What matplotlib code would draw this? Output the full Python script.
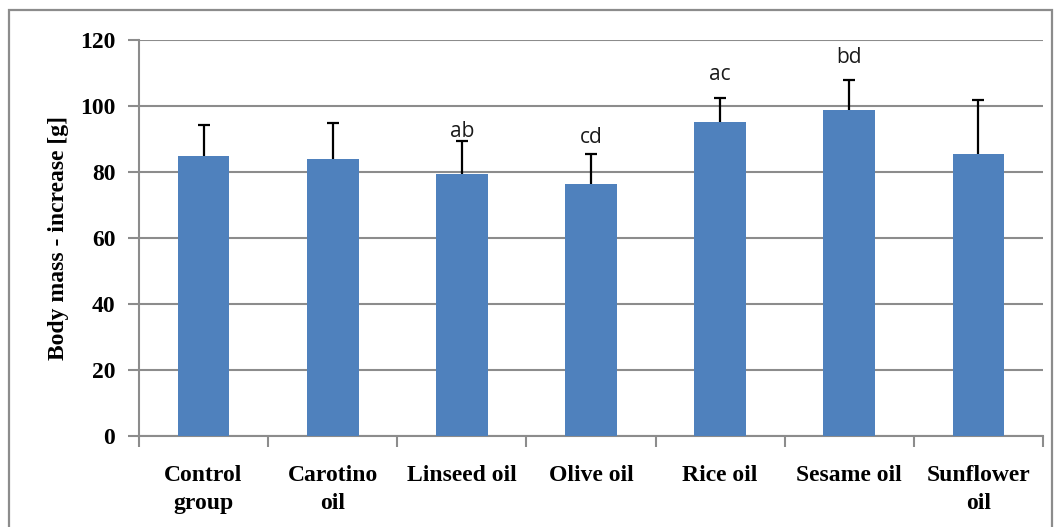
import matplotlib.pyplot as plt
from matplotlib.patches import Rectangle

# chart data
groups = ["Control\ngroup", "Carotino\noil", "Linseed oil", "Olive oil",
          "Rice oil", "Sesame oil", "Sunflower\noil"]
means = [84.8, 83.9, 79.4, 76.4, 95.2, 98.8, 85.5]
upper_err = [9.4, 10.9, 10.0, 9.1, 7.2, 9.1, 16.3]
letters = ["", "", "ab", "cd", "ac", "bd", ""]
letter_y = [0, 0, 90.6, 88.8, 107.9, 113.0, 0]
y_ticks = [0, 20, 40, 60, 80, 100, 120]

SERIF = "Liberation Serif"


def main():
    fig = plt.figure(figsize=(10.56, 5.27), dpi=100)
    ax = fig.add_axes([0.1316, 0.1727, 0.8561, 0.7514])

    # outer frame of the chart area
    fig.patches.append(Rectangle((9 / 1056, -0.05), 1043 / 1056, 1 - 10 / 527 + 0.05,
                                 transform=fig.transFigure, fill=False,
                                 edgecolor="#8c8c8c", linewidth=1.6))

    x = list(range(len(groups)))
    ax.bar(x, means, width=0.4, color="#4f81bd", zorder=3)
    eb = ax.errorbar(x, means, yerr=[[0] * len(means), upper_err], fmt="none",
                     ecolor="black", elinewidth=1.6, capsize=4, capthick=1.6,
                     zorder=4)
    # only the upper cap is drawn
    eb[1][0].set_visible(False)

    # significance letters above the error bars
    for xi, ly, lab in zip(x, letter_y, letters):
        if lab:
            ax.text(xi, ly, lab, ha="center", va="baseline", fontsize=15,
                    family="Open Sans", color="#1a1a1a")

    ax.set_xlim(-0.5, len(groups) - 0.5)
    ax.set_ylim(0, 120)
    ax.set_yticks(y_ticks)
    ax.yaxis.grid(True, color="#8c8c8c", linewidth=1.5, zorder=0)
    ax.set_axisbelow(True)

    ax.set_xticks([i - 0.5 for i in range(len(groups) + 1)], minor=False)
    ax.set_xticklabels([])
    ax.set_xticks(x, minor=True)
    ax.set_xticklabels(groups, minor=True, fontsize=17, fontweight="bold",
                       family=SERIF, linespacing=1.42)
    ax.tick_params(axis="x", which="minor", length=0, pad=21)
    ax.tick_params(axis="x", which="major", length=8, width=1.5, color="#8c8c8c")
    ax.tick_params(axis="y", length=8, width=1.5, color="#8c8c8c", pad=9)
    for lbl in ax.get_yticklabels():
        lbl.set_fontsize(17)
        lbl.set_fontweight("bold")
        lbl.set_family(SERIF)

    for side in ["top", "right"]:
        ax.spines[side].set_visible(False)
    for side in ["left", "bottom"]:
        ax.spines[side].set_color("#8c8c8c")
        ax.spines[side].set_linewidth(1.5)

    ax.set_ylabel("Body mass - increase [g]", fontsize=17, fontweight="bold",
                  family=SERIF, labelpad=8)

    fig.savefig("out.png", dpi=100)


if __name__ == "__main__":
    main()
